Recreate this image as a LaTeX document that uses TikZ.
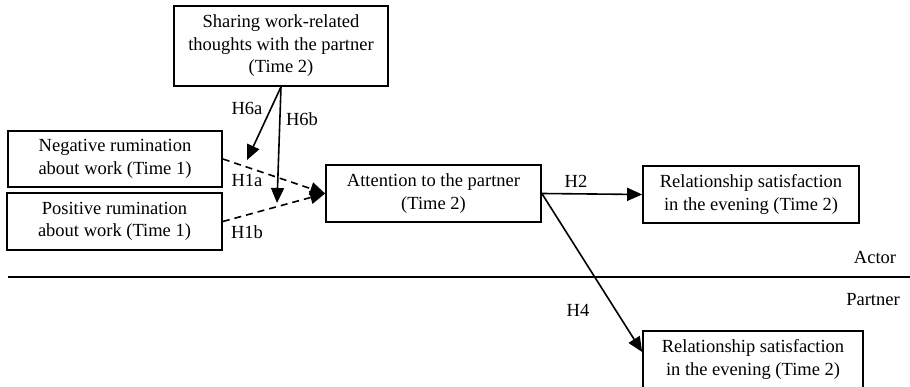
\documentclass[tikz,border=0pt]{standalone}
\usepackage{fontspec}
\setmainfont{Liberation Serif}
\usetikzlibrary{arrows.meta}
\begin{document}
\begin{tikzpicture}[x=1pt,y=-1pt,
  box/.style={draw,line width=1.7pt,inner sep=0pt,align=center,
    font=\fontsize{18.5}{22.5}\selectfont},
  lbl/.style={inner sep=0pt,font=\fontsize{18.5}{22.5}\selectfont},
  arr/.style={line width=1.6pt,-{Triangle[length=15pt,width=13pt]}},
  darr/.style={arr,dash pattern=on 7pt off 5pt}]
\useasboundingbox (0,0) rectangle (910,387);
\node[box,minimum width=214pt,minimum height=80pt] (share) at (281,46)
  {Sharing work-related\\thoughts with the partner\\(Time 2)};
\node[box,minimum width=214pt,minimum height=56pt] (neg) at (115,159)
  {Negative rumination\\about work (Time 1)};
\node[box,minimum width=215pt,minimum height=57pt] (pos) at (114.5,221.5)
  {Positive rumination\\about work (Time 1)};
\node[box,minimum width=215pt,minimum height=57pt] (att) at (433.5,193.5)
  {Attention to the partner\\(Time 2)};
\node[box,minimum width=216pt,minimum height=57pt] (rel1) at (751,194.5)
  {Relationship satisfaction\\in the evening (Time 2)};
\node[box,minimum width=220pt,minimum height=57pt] (rel2) at (753,359.5)
  {Relationship satisfaction\\in the evening (Time 2)};
\coordinate (t6a) at (247,160);
\coordinate (t6b) at (277,203);
\coordinate (lineL) at (8,277);
\coordinate (lineR) at (910,277);
\draw[arr] (share.south) -- (t6a);
\draw[arr] (share.south) -- (t6b);
\draw[darr] (neg.east) -- (att.west);
\draw[darr] (pos.east) -- (att.west);
\draw[arr] (att.east) -- (rel1.west);
\draw[arr] (att.east) -- ([yshift=7.5pt]rel2.west);
\draw[line width=2.2pt] (lineL) -- (lineR);
\node[lbl] (h6a) at (247,108) {H6a};
\node[lbl] (h6b) at (302,119) {H6b};
\node[lbl] (h1a) at (247,180) {H1a};
\node[lbl] (h1b) at (247,232) {H1b};
\node[lbl] (h2) at (576,181) {H2};
\node[lbl] (h4) at (578,310) {H4};
\node[lbl] (actor) at (875,257) {Actor};
\node[lbl] (partner) at (873,300) {Partner};
\end{tikzpicture}
\end{document}
